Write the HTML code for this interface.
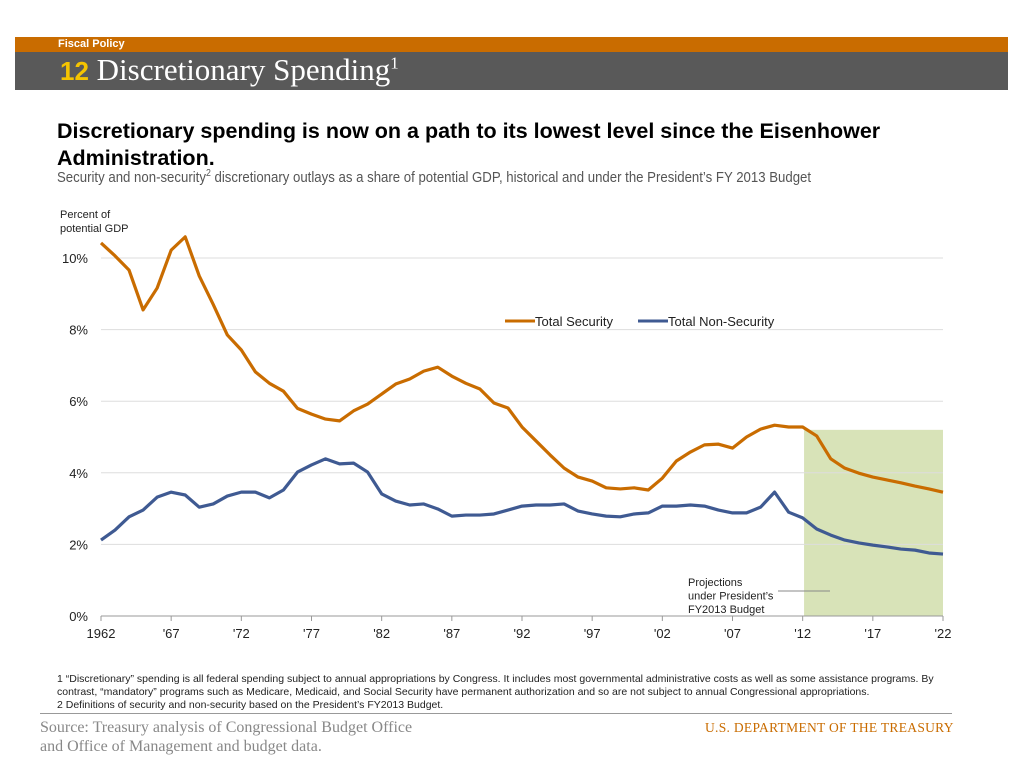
<!DOCTYPE html>
<html><head><meta charset="utf-8"><style>
body{margin:0;width:1024px;height:768px;background:#fff;position:relative;overflow:hidden;font-family:"Liberation Sans",sans-serif}
.a{position:absolute;white-space:nowrap}
</style></head><body>
<div class="a" style="left:15px;top:37px;width:993px;height:15px;background:#c96c00"></div>
<div class="a" style="left:58px;top:38px;font-size:11px;font-weight:bold;color:#fff">Fiscal Policy</div>
<div class="a" style="left:15px;top:52px;width:993px;height:38px;background:#595959"></div>
<div class="a" style="left:60px;top:52px;font-size:31px;color:#fff;font-family:'Liberation Serif',serif"><b style="font-family:'Liberation Sans',sans-serif;color:#f5c400;font-size:26px">12</b> Discretionary Spending<sup style="font-size:17px">1</sup></div>
<div class="a" style="left:57px;top:118px;font-size:21.5px;font-weight:bold;color:#000;line-height:27px;white-space:normal;width:870px">Discretionary spending is now on a path to its lowest level since the Eisenhower Administration.</div>
<div class="a" style="left:57px;top:168px;font-size:15px;color:#555;transform:scaleX(0.88);transform-origin:left">Security and non-security<sup style="font-size:10px">2</sup> discretionary outlays as a share of potential GDP, historical and under the President’s FY 2013 Budget</div>
<div class="a" style="left:60px;top:208px;font-size:11px;line-height:14px;color:#222">Percent of<br>potential GDP</div>
<svg class="a" style="left:0;top:0" width="1024" height="768" id="chart"></svg>
<div class="a" style="left:57px;top:673px;font-size:10.5px;line-height:13px;color:#222;white-space:normal;width:905px">1 “Discretionary” spending is all federal spending subject to annual appropriations by Congress. It includes most governmental administrative costs as well as some assistance programs. By contrast, “mandatory” programs such as Medicare, Medicaid, and Social Security have permanent authorization and so are not subject to annual Congressional appropriations.<br>2 Definitions of security and non-security based on the President’s FY2013 Budget.</div>
<div class="a" style="left:40px;top:713px;width:912px;height:1px;background:#999"></div>
<div class="a" style="left:40px;top:718px;font-size:16px;line-height:19px;color:#888;font-family:'Liberation Serif',serif">Source: Treasury analysis of Congressional Budget Office<br>and Office of Management and budget data.</div>
<div class="a" style="left:705px;top:720px;font-size:13.5px;color:#c96c00;font-family:'Liberation Serif',serif;letter-spacing:0.3px">U.S. DEPARTMENT OF THE TREASURY</div>
<script>
const years=[];for(let y=1962;y<=2022;y++)years.push(y);
const security=[10.42,10.06,9.66,8.55,9.16,10.22,10.59,9.5,8.7,7.85,7.43,6.82,6.5,6.28,5.8,5.64,5.5,5.45,5.73,5.92,6.2,6.48,6.62,6.84,6.95,6.7,6.5,6.34,5.95,5.81,5.28,4.89,4.5,4.13,3.88,3.77,3.58,3.55,3.58,3.52,3.85,4.33,4.58,4.78,4.8,4.69,5.0,5.22,5.33,5.28,5.28,5.03,4.39,4.13,3.99,3.88,3.8,3.72,3.63,3.55,3.46];
const nonSecurity=[2.12,2.4,2.77,2.96,3.32,3.46,3.38,3.04,3.13,3.35,3.46,3.46,3.3,3.52,4.02,4.22,4.39,4.25,4.27,4.02,3.41,3.21,3.1,3.13,2.99,2.79,2.82,2.82,2.85,2.96,3.07,3.1,3.1,3.13,2.93,2.85,2.79,2.77,2.85,2.88,3.07,3.07,3.1,3.07,2.96,2.88,2.88,3.04,3.46,2.9,2.74,2.43,2.26,2.12,2.04,1.98,1.93,1.87,1.84,1.76,1.73];
const yTicks=[0,2,4,6,8,10];
const xTicks=[1962,1967,1972,1977,1982,1987,1992,1997,2002,2007,2012,2017,2022];
const projStart=2012.1, projEnd=2022, projTop=5.2;
const X=v=>101+(v-1962)*(943-101)/60, Y=v=>616-v*35.8;
const svg=document.getElementById('chart'),NS='http://www.w3.org/2000/svg';
function mk(t,a,p){const e=document.createElementNS(NS,t);for(const k in a)e.setAttribute(k,a[k]);(p||svg).appendChild(e);return e;}
let r=mk('rect',{x:X(projStart),y:Y(projTop),width:X(projEnd)-X(projStart),height:Y(0)-Y(projTop),fill:'#d8e3b8'});


yTicks.forEach(v=>{
 const l=mk('line',{x1:101,x2:943,y1:Y(v),y2:Y(v),stroke:v===0?'#999':'#ddd','stroke-width':1});
 
 
 const t=mk('text',{x:88,y:Y(v)+5,'text-anchor':'end','font-size':13,fill:'#222'});t.textContent=v+'%';
 
 
});
xTicks.forEach((v,i)=>{
 const l=mk('line',{x1:X(v),x2:X(v),y1:616,y2:621,stroke:'#999'});
 
 
 const t=mk('text',{x:X(v),y:638,'text-anchor':'middle','font-size':13,fill:'#222'});t.textContent=i===0?v:"'"+String(v).slice(2);
 
 
});
function line(d,c,n){const p=mk('polyline',{points:d.map((v,i)=>X(years[i])+','+Y(v)).join(' '),fill:'none',stroke:c,'stroke-width':3.2,'stroke-linejoin':'round'});
 
 }
line(security,'#c96c00','security-line');
line(nonSecurity,'#3f5a92','non-security-line');
[['#c96c00','Total Security',505],['#3f5a92','Total Non-Security',638]].forEach(([c,s,x])=>{
 const g=mk('g',{});
 
 
 mk('line',{x1:x,x2:x+30,y1:321,y2:321,stroke:c,'stroke-width':3},g);
 const t=mk('text',{x:x+30,y:326,'font-size':13,fill:'#222'},g);t.textContent=s;
});
const ann=mk('g',{});


['Projections','under President’s','FY2013 Budget'].forEach((s,i)=>{const t=mk('text',{x:688,y:586+i*13.5,'font-size':11,fill:'#222'},ann);t.textContent=s;});
mk('line',{x1:778,x2:830,y1:591,y2:591,stroke:'#888'},ann);
</script>
</body></html>
